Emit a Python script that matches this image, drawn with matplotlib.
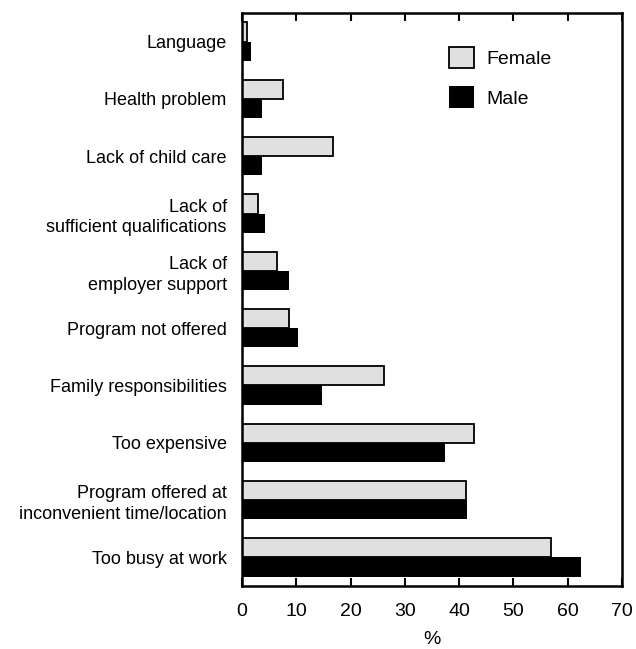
import numpy as np
import matplotlib.pyplot as plt

plt.rcParams['font.family'] = ['Liberation Sans', 'DejaVu Sans']

categories = ['Language', 'Health problem', 'Lack of child care',
              'Lack of\nsufficient qualifications', 'Lack of\nemployer support',
              'Program not offered', 'Family responsibilities', 'Too expensive',
              'Program offered at\ninconvenient time/location', 'Too busy at work']
female = [1.0, 7.5, 16.7, 2.9, 6.5, 8.6, 26.1, 42.8, 41.3, 57.0]
male = [1.6, 3.6, 3.7, 4.3, 8.7, 10.4, 14.7, 37.4, 41.5, 62.5]

fig = plt.figure(figsize=(6.36, 6.49), dpi=100)
ax = fig.add_axes([0.3805, 0.097, 0.5975, 0.883])

y = np.arange(len(categories))
h = 0.335
ax.barh(y - h / 2, female, height=h, color='#e0e0e0', edgecolor='black',
        linewidth=1.3, label='Female')
ax.barh(y + h / 2, male, height=h, color='black', edgecolor='black',
        linewidth=0, label='Male')

ax.set_ylim(9.5, -0.5)
ax.set_xlim(0, 70)
ax.set_xticks(range(0, 71, 10))
ax.set_yticks(y)
ax.set_yticklabels(categories, linespacing=1.3)
ax.tick_params(axis='y', length=0, pad=11, labelsize=13)
ax.tick_params(axis='x', direction='in', length=6, width=1.5, top=True,
               pad=12, labelsize=14)
for s in ax.spines.values():
    s.set_linewidth(1.8)
ax.set_xlabel('%', fontsize=14, labelpad=8)

ax.legend(loc='upper left', bbox_to_anchor=(0.545, 0.941), frameon=False,
          borderpad=0, borderaxespad=0, fontsize=14, handlelength=1.3,
          handleheight=1.3, handletextpad=0.6, labelspacing=0.95)

fig.savefig('out.png', dpi=100)
